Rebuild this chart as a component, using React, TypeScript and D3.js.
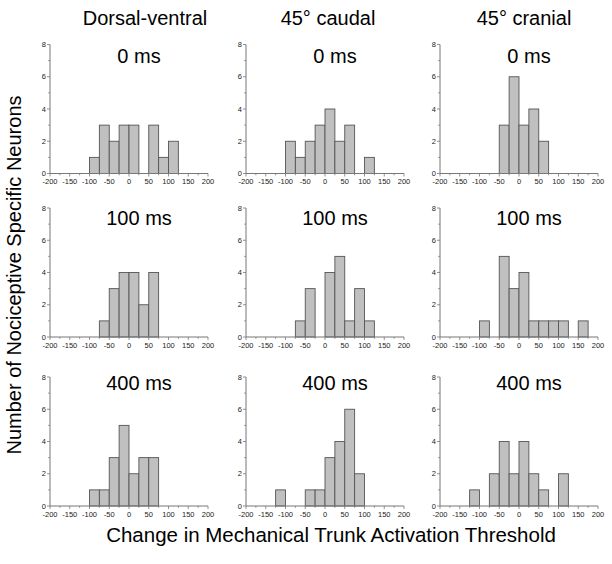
import React from "react";
import * as d3 from "d3";

const binStarts = [-200, -175, -150, -125, -100, -75, -50, -25, 0, 25, 50, 75, 100, 125, 150, 175];
const binWidth = 25;
const columnTitles = ["Dorsal-ventral", "45° caudal", "45° cranial"];
const rowTitles = ["0 ms", "100 ms", "400 ms"];
const xTicks = [-200, -150, -100, -50, 0, 50, 100, 150, 200];
const xMinorTicks = [-175, -125, -75, -25, 25, 75, 125, 175];
const yTicks = [0, 2, 4, 6, 8];
const yMinorTicks = [1, 3, 5, 7];

// counts per bin: [row][col]
const dv0 = [0, 0, 0, 0, 1, 3, 2, 3, 3, 0, 3, 1, 2, 0, 0, 0];
const caudal0 = [0, 0, 0, 0, 2, 1, 2, 3, 4, 2, 3, 0, 1, 0, 0, 0];
const cranial0 = [0, 0, 0, 0, 0, 0, 3, 6, 3, 4, 2, 0, 0, 0, 0, 0];
const dv100 = [0, 0, 0, 0, 0, 1, 3, 4, 4, 2, 4, 0, 0, 0, 0, 0];
const caudal100 = [0, 0, 0, 0, 0, 1, 3, 0, 4, 5, 1, 3, 1, 0, 0, 0];
const cranial100 = [0, 0, 0, 0, 1, 0, 5, 3, 4, 1, 1, 1, 1, 0, 1, 0];
const dv400 = [0, 0, 0, 0, 1, 1, 3, 5, 2, 3, 3, 0, 0, 0, 0, 0];
const caudal400 = [0, 0, 0, 1, 0, 0, 1, 1, 3, 4, 6, 2, 0, 0, 0, 0];
const cranial400 = [0, 0, 0, 1, 0, 2, 4, 2, 4, 2, 1, 0, 2, 0, 0, 0];

const panelData = [
  [dv0, caudal0, cranial0],
  [dv100, caudal100, cranial100],
  [dv400, caudal400, cranial400],
];

const W = 612;
const H = 564;
const colLefts = [50, 246, 440];
const rowTops = [44.5, 208, 377];
const plotW = 158;
const plotH = 129;
const titleCenters = [145, 328, 524];
const rowLabelBaselines = [62.5, 224.5, 389.5];

const FONT = "'Liberation Sans', Arial, Helvetica, sans-serif";
const axisColor = "#777";
const barFill = "#c0c0c0";
const barStroke = "#555";

function Panel({ left, top, counts, label, labelY }: any) {
  const x = d3.scaleLinear().domain([-200, 200]).range([left, left + plotW]);
  const y = d3.scaleLinear().domain([0, 8]).range([top + plotH, top]);
  const y0 = y(0);
  return (
    <g>
      {counts.map((c: number, i: number) =>
        c > 0 ? (
          <rect
            key={i}
            x={x(binStarts[i])}
            y={y(c)}
            width={x(binStarts[i] + binWidth) - x(binStarts[i])}
            height={y0 - y(c)}
            fill={barFill}
            stroke={barStroke}
            strokeWidth={0.9}
          />
        ) : null
      )}
      <line x1={x(-200)} x2={x(200)} y1={y0} y2={y0} stroke={axisColor} strokeWidth={1} />
      <line x1={left} x2={left} y1={y(8)} y2={y0} stroke={axisColor} strokeWidth={1} />
      {xTicks.map((t) => (
        <g key={"xt" + t}>
          <line x1={x(t)} x2={x(t)} y1={y0} y2={y0 + 3} stroke={axisColor} strokeWidth={0.8} />
          <text x={x(t)} y={y0 + 10.5} fontSize={7.5} textAnchor="middle" fill="#222" fontFamily={FONT}>
            {t}
          </text>
        </g>
      ))}
      {xMinorTicks.map((t) => (
        <line key={"xm" + t} x1={x(t)} x2={x(t)} y1={y0} y2={y0 + 1.8} stroke={axisColor} strokeWidth={0.8} />
      ))}
      {yTicks.map((t) => (
        <g key={"yt" + t}>
          <line x1={left - 3} x2={left} y1={y(t)} y2={y(t)} stroke={axisColor} strokeWidth={0.8} />
          <text x={left - 4} y={y(t) + 2.7} fontSize={7.5} textAnchor="end" fill="#222" fontFamily={FONT}>
            {t}
          </text>
        </g>
      ))}
      {yMinorTicks.map((t) => (
        <line key={"ym" + t} x1={left - 1.8} x2={left} y1={y(t)} y2={y(t)} stroke={axisColor} strokeWidth={0.8} />
      ))}
      <text x={left + 89} y={labelY} fontSize={20} textAnchor="middle" fill="#000" fontFamily={FONT}>
        {label}
      </text>
    </g>
  );
}

export default function App() {
  return (
    <svg
      width={W}
      height={H}
      viewBox={`0 0 ${W} ${H}`}
      style={{ position: "absolute", left: 0, top: 0, background: "#fff" }}
    >
      <rect x={0} y={0} width={W} height={H} fill="#fff" />
      {columnTitles.map((t, i) => (
        <text key={t} x={titleCenters[i]} y={25} fontSize={20} textAnchor="middle" fill="#000" fontFamily={FONT}>
          {t}
        </text>
      ))}
      {panelData.map((row, r) =>
        row.map((counts, c) => (
          <Panel
            key={r + "-" + c}
            left={colLefts[c]}
            top={rowTops[r]}
            counts={counts}
            label={rowTitles[r]}
            labelY={rowLabelBaselines[r]}
          />
        ))
      )}
      <text
        transform="translate(21,275) rotate(-90)"
        fontSize={20}
        textAnchor="middle"
        fill="#000"
        fontFamily={FONT}
      >
        Number of Nociceptive Specific Neurons
      </text>
      <text x={331} y={542} fontSize={20.5} textAnchor="middle" fill="#000" fontFamily={FONT}>
        Change in Mechanical Trunk Activation Threshold
      </text>
    </svg>
  );
}
